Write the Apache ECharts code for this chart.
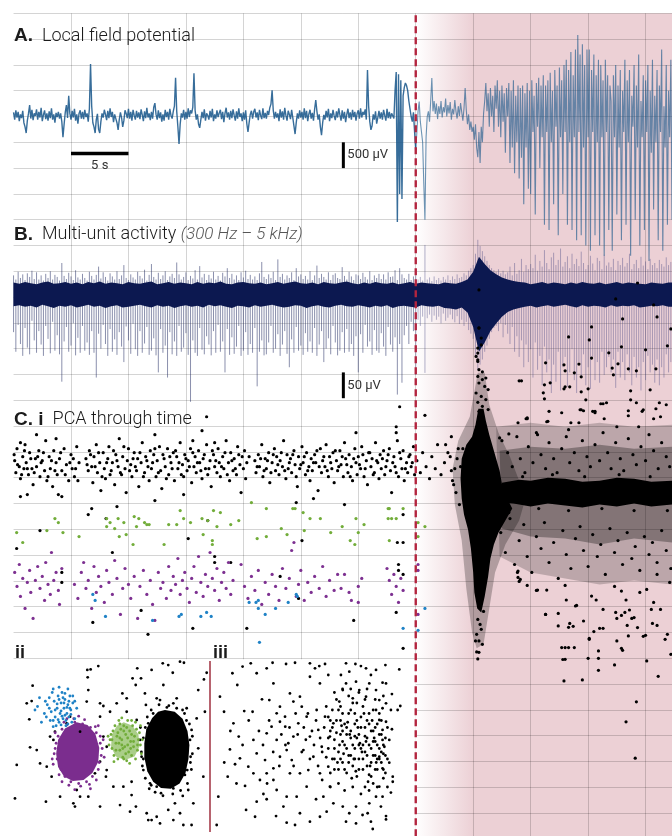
<!DOCTYPE html>
<html><head><meta charset="utf-8">
<script src="https://cdn.jsdelivr.net/npm/echarts@6/dist/echarts.min.js"></script>
<style>html,body{margin:0;padding:0;background:#fff}#chart{width:672px;height:836px}</style>
</head><body><div id="chart"></div>
<script>
// ---- time base (seconds) ----
const T_MAX = 57.3;          // end of recording window
const ONSET = 35;            // seizure onset marker
const SHADE_FULL = 40;       // shading reaches full strength
const LFP_STEP = 0.1, MUA_STEP = 0.2, CORE_STEP = 0.5;

// ---- A. local field potential, µV, one sample per 0.1 s ----
const lfp = [
 80,-60,120,-20,90,-90,40,-30,110,-120,
 -200,-320,-80,60,220,-40,130,-70,60,10,
 140,-60,90,-20,170,-90,30,120,-50,60,
 -80,100,-30,160,-60,40,-120,70,-10,90,
 -40,60,-100,-400,-150,80,220,-30,400,60,
 -60,110,-20,150,-80,40,-140,60,120,-40,
 90,-50,130,-10,60,-100,150,1017,200,-120,
 -200,-320,-60,50,-250,-320,-100,60,-20,130,
 40,-70,110,-30,160,-10,90,-110,40,-40,
 -120,-260,-60,80,-20,-200,-80,120,60,-30,
 150,-40,90,-80,130,20,-60,110,-20,80,
 -50,140,30,-90,100,-30,170,-20,60,-70,
 90,-40,180,260,40,-60,120,-30,80,-100,
 40,-80,130,-10,90,-60,150,20,-40,100,
 200,750,100,-200,-530,-150,60,-20,130,-60,
 90,-40,160,-10,120,60,180,840,120,-60,
 40,-150,-220,-60,90,-30,140,-80,60,20,
 -60,110,-20,150,-90,40,-40,120,-10,70,
 130,-50,90,-110,60,170,-20,80,-60,110,
 -30,140,20,-80,100,-40,160,-10,60,-90,
 80,-60,120,-140,-300,-120,40,110,-40,90,
 150,-20,80,-70,130,20,-50,160,-30,70,
 -40,110,30,170,240,510,120,-40,90,-20,
 60,-90,140,-20,100,-60,170,20,-80,110,
 40,-50,130,-20,-180,-340,-120,60,-40,120,
 -20,90,-60,160,-30,110,-90,50,130,-40,
 70,-80,140,320,100,-60,40,-200,-360,-120,
 30,-60,110,-20,150,-90,60,-30,130,10,
 -70,100,-20,160,30,-80,120,-40,90,-110,
 40,150,-30,80,-60,130,-10,90,-80,60,
 120,-40,160,-20,90,30,140,-60,900,200,
 -100,-260,-180,40,-60,100,-140,-20,110,-40,
 80,-60,130,20,-80,150,-30,90,-40,60,
 60,-40,500,860,-2045,820,-1500,700,-1600,400,
 560,650,600,500,300,150,0,-100,80,-300,
 -650,-300,100,290,-100,-300,-500,-1300,-2000,-400,
 0,100,-100,300,745,100,300,50,250,-50,
 200,50,300,-20,180,80,350,0,220,60,
 280,-60,150,40,320,100,-40,200,10,260,
 90,-80,160,550,120,-150,40,-260,-100,-300,
 -200,-450,-150,-600,-790,-300,-900,-200,-500,50,
 300,650,100,450,-200,550,0,400,-300,600,
 150,700,-200,500,-400,600,-100,450,-700,550,
 0,650,-900,500,-600,700,-1100,400,-500,600,
 -1200,550,-800,600,-1700,450,-600,650,-1400,500,
 -1500,700,-300,400,-1900,650,-200,750,-1000,600,
 -400,800,-2100,600,-300,700,-2200,850,-500,500,
 -1700,900,-200,600,-2300,950,-400,700,-1500,1000,
 -300,1100,-2100,900,-500,1250,-2200,800,-400,1300,
 -2400,1580,-300,1200,-2300,1400,-600,1000,-2500,1300,
 -400,1300,-2600,900,-300,1200,-2300,800,-500,1100,
 -2500,1000,-400,700,-2700,1100,-300,800,-2200,600,
 300,-2600,800,-400,1000,-1900,600,-600,900,-2400,
 500,-300,1100,-2100,700,-500,900,-2700,400,-200,
 1000,-2000,600,-600,1200,-2500,300,-400,800,-2200,
 700,-300,1000,-2800,500,-700,1100,-1800,400,-500,
 900,-2400,600,-300,1300,-2600,200,-600,1000,-2100,
 500,-400,1100,-2000
];

// ---- B. multi-unit activity, µV: per 0.2 s bin maximum and minimum ----
const muaHi = [
 38,30,45,33,40, 29,42,35,47,31, 44,30,38,28,41, 33,46,30,39,35, 28,62,37,31,43,
 36,29,48,34,30, 41,33,28,45,37, 30,39,55,32,44, 35,28,42,36,30, 46,31,38,58,33,
 29,40,34,30,45, 37,32,49,28,39, 60,35,30,43,31, 38,46,29,36,41, 33,63,40,30,35,
 44,29,37,32,48, 30,56,34,41,29, 39,32,45,30,37, 28,43,36,52,33, 41,30,38,29,44,
 34,47,31,39,30, 36,29,42,64,35, 31,40,33,45,29, 69,35,41,30,38, 33,44,29,52,36,
 40,31,37,30,46, 29,38,57,33,41, 35,30,44,29,39, 42,33,31,54,37, 30,45,36,29,40,
 38,31,43,35,30, 46,29,38,33,41, 31,40,30,44,35, 36,48,29,52,40, 33,30,41,29,36,
 38,30,35,28,97, 30,34,27,36,29, 33,28,35,30,38, 29,36,31,40,33, 35,42,38,47,52,
 58,80,107,95,85, 75,66,58,52,48, 45,50,42,47,40, 44,55,38,62,41, 48,70,45,58,50,
 60,52,78,47,66, 55,87,62,50,73, 82,58,68,90,55, 64,75,52,80,60, 70,56,84,62,50,
 58,76,61,48,72, 66,50,78,57,63, 54,70,48,66,58, 72,55,62,80,50, 60,68,52,74,57,
 65,50,70,58,62, 52,68,60,55,73, 58,64
];
const muaLo = [
 -72,-110,-58,-95,-118, -64,-102,-115,-50,-88, -112,-70,-96,-118,-60, -85,-113,-52,-108,-78,
 -115,-168,-90,-62,-110, -98,-55,-117,-83,-112, -60,-108,-92,-116,-70, -112,-160,-75,-104,-58,
 -95,-118,-66,-110,-86, -116,-72,-100,-130,-61, -88,-114,-56,-105,-118, -70,-112,-94,-62,-116,
 -108,-84,-117,-150,-66, -112,-98,-160,-72,-115, -90,-118,-60,-110,-102, -74,-116,-207,-88,-112,
 -118,-64,-106,-115,-80, -96,-117,-70,-112,-58, -110,-90,-150,-66,-116, -82,-114,-100,-60,-118,
 -108,-72,-116,-95,-112, -64,-177,-110,-88,-117, -115,-92,-60,-112,-104, -76,-118,-96,-70,-114,
 -140,-86,-112,-62,-108, -98,-116,-74,-110,-90, -112,-64,-118,-96,-70, -130,-104,-84,-115,-60,
 -92,-117,-108,-72,-112, -66,-110,-95,-118,-80, -150,-76,-112,-58,-100, -90,-116,-68,-108,-112,
 -74,-100,-118,-62,-96, -110,-82,-193,-95,-170, -78,-60,-95,-52,-70, -155,-48,-60,-42,-151,
 -45,-38,-52,-40,-48, -42,-55,-36,-50,-44, -38,-47,-53,-41,-56, -48,-60,-52,-68,-75,
 -85,-120,-145,-135,-125, -110,-98,-85,-72,-64, -60,-70,-55,-82,-58, -75,-95,-62,-110,-80,
 -120,-88,-140,-96,-130, -105,-160,-92,-145,-118, -175,-100,-150,-125,-190, -135,-168,-110,-185,-140,
 -120,-178,-150,-105,-165, -190,-130,-160,-115,-175, -140,-182,-120,-165,-130, -170,-110,-155,-140,-120,
 -150,-125,-180,-110,-160, -130,-165,-115,-150,-175, -120,-160,-140,-185,-130, -165,-118,-150,-135,-170,
 -125,-175,-140,-160,-115, -150,-130
];
// dense core of the band, µV, every 0.5 s
const muaCoreHi = [
 24,22,25,23,21,24,26,22,23,25, 22,24,21,25,23,26,22,24,23,21, 25,23,22,24,26,21,23,25,22,24,
 23,21,25,22,24,23,26,22,21,24, 25,23,22,24,21,23,25,22,24,26, 23,22,24,21,25,23,22,24,26,23,
 21,24,22,25,23,22,24,21,23,25, 22,24,23,22,21,24,23,22,25,
 30,45,74,60,48,40,34,30,
 27,25,24,21,23,25,22,24,23,21,24,22,25,23,22,24,21,23,25,22,24,23,22,21,24,23,22,24
];
const muaCoreLo = [
 -22,-20,-23,-21,-24,-19,-22,-25,-21,-23, -20,-24,-22,-19,-23,-21,-25,-22,-20,-24, -23,-21,-19,-22,-24,-20,-23,-21,-25,-22,
 -20,-23,-21,-24,-19,-22,-20,-23,-25,-21, -22,-24,-20,-23,-21,-19,-22,-24,-23,-20, -21,-25,-22,-20,-23,-24,-21,-19,-22,-23,
 -20,-22,-24,-21,-23,-20,-25,-22,-21,-23, -24,-20,-22,-23,-21,-25,-26,-28,-24,
 -34,-62,-110,-92,-70,-55,-42,-33,
 -28,-25,-23,-21,-24,-22,-20,-23,-21,-19,-22,-24,-20,-23,-21,-22,-24,-20,-23,-21,-22,-20,-24,-23,-21,-22,-20,-23
];

// ---- C.i  PC1 score of each detected event through time: (time s, score) pairs ----
const pcaBlackEarly = [
 0.1,34,0.2,28,0.3,40,0.5,31,0.6,25,0.8,36,0.9,30, 1.0,42,1.1,33,1.3,27,1.4,38,1.6,30,1.7,22,1.9,35,
 2.0,31,2.2,39,2.3,26,2.5,34,2.7,29,2.8,44,2.9,24, 3.1,36,3.2,30,3.4,21,3.5,39,3.7,33,3.8,27,3.9,17,
 4.0,35,4.2,29,4.4,40,4.6,32,4.8,24, 5.0,37,5.1,30,5.3,26,5.5,41,5.7,33, 6.3,35,6.5,29,6.6,39,6.8,31,6.9,23,
 7.0,36,7.2,42,7.3,28,7.5,33,7.6,19,7.8,38,7.9,30, 8.0,25,8.2,35,8.3,41,8.5,29,8.6,33,8.8,22,8.9,37,
 9.1,31,9.2,45,9.4,27,9.5,36,9.7,30,9.8,18,9.9,34, 10.0,40,10.2,32,10.3,26,10.5,38,10.7,29,10.8,35,10.9,21,
 11.1,33,11.2,43,11.4,28,11.5,36,11.7,31,11.8,24,11.9,39, 12.0,30,12.2,37,12.4,26,12.5,34,12.7,41,12.8,29,12.9,20,
 13.1,35,13.2,31,13.4,40,13.5,27,13.7,33,13.9,38, 14.0,24,14.2,36,14.3,30,14.5,43,14.7,32,14.8,26,14.9,37,
 15.1,29,15.2,34,15.4,40,15.5,23,15.7,31,15.8,36,15.9,28, 16.1,39,16.2,33,16.4,25,16.5,35,16.7,30,16.8,42,16.9,27,
 17.1,34,17.2,21,17.4,37,17.5,31,17.7,28,17.8,40,17.9,33, 18.0,26,18.2,36,18.3,30,18.5,44,18.7,33,18.8,24,18.9,38,
 19.1,29,19.2,35,19.4,27,19.5,41,19.7,32,19.8,18,19.9,36, 20.0,30,20.1,39,20.2,25,21.0,34,21.1,28,
 21.3,37,21.4,31,21.6,42,21.7,26,21.9,35, 22.0,30,22.2,38,22.3,23,22.5,33,22.7,40,22.8,29,22.9,36,
 23.1,27,23.2,34,23.4,31,23.5,44,23.7,25,23.8,37,23.9,30, 24.1,35,24.2,28,24.4,39,24.5,32,24.7,21,24.8,36,24.9,30,
 25.1,41,25.2,33,25.4,27,25.5,38,25.7,31,25.8,24,25.9,35, 26.0,29,26.2,37,26.3,33,26.5,19,26.7,40,26.8,28,26.9,34,
 27.1,31,27.2,42,27.4,26,27.5,36,27.7,30,27.8,38,27.9,23, 28.1,34,28.2,29,28.4,39,28.5,32,28.7,26,28.8,43,28.9,35,
 29.1,28,29.2,37,29.4,31,29.5,24,29.7,40,29.8,33,29.9,27, 30.0,36,30.2,30,30.3,41,30.5,26,30.7,34,30.8,22,30.9,38,
 31.1,31,31.2,35,31.4,28,31.5,43,31.7,33,31.8,25,31.9,37, 32.0,30,32.2,39,32.3,27,32.5,34,32.7,40,32.8,29,32.9,18,
 33.1,36,33.2,31,33.4,44,33.5,26,33.7,35,33.8,30,33.9,39, 34.0,24,34.2,33,34.3,28,34.5,37,34.6,31,34.8,41,34.9,27,
 35.1,34,35.4,28,35.6,38,35.9,31,36.2,25,36.4,36,36.7,30,36.9,42,37.2,27,37.5,33,37.8,38,38.1,29,38.3,22,
 38.6,35,38.9,31,39.1,40,39.4,26,39.6,34,39.8,37,39.9,30,
 0.05,37,0.35,32,0.7,27,0.95,39,1.2,30,1.5,35,1.8,28,2.1,36,2.4,33,2.6,38,3.0,26,3.3,34,3.6,29,4.1,38,4.5,27,
 4.9,33,5.2,35,5.4,30,5.6,24,6.4,32,6.7,37,7.1,31,7.4,38,7.7,26,8.1,33,8.4,27,8.7,39,9.0,34,9.3,28,9.6,41,
 10.1,29,10.4,35,10.6,31,11.0,38,11.3,26,11.6,34,12.1,33,12.3,40,12.6,28,13.0,37,13.3,25,13.6,36,13.8,30,
 14.1,39,14.4,33,14.6,27,15.0,35,15.3,31,15.6,38,16.0,33,16.3,29,16.6,37,17.0,30,17.3,39,17.6,34,18.1,31,
 18.4,38,18.6,27,19.0,34,19.3,30,19.6,37,20.3,33,20.5,36,21.2,31,21.5,35,21.8,29,22.1,34,22.4,28,22.6,37,
 23.0,32,23.3,38,23.6,29,24.0,33,24.3,37,24.6,26,25.0,32,25.3,36,25.6,29,26.1,33,26.4,39,26.6,31,27.0,36,
 27.3,29,27.6,33,28.0,39,28.3,31,28.6,36,29.0,32,29.3,26,29.6,35,30.1,32,30.4,37,30.6,30,31.0,38,31.3,27,
 31.6,34,32.1,35,32.4,31,32.6,37,33.0,33,33.3,28,33.6,38,34.1,30,34.4,36,34.7,33,
 0.27,-10,2.3,-1,6.5,7,6.8,10,8.05,5,9.0,11,8.6,-12,4.2,-22,4.2,-27,6.9,-47,11.1,-41,11.7,-53,15.2,-5,16.9,4,
 17.5,-17,17.5,-14,18.9,-17,15.6,-50,20.3,-50,23.2,-24,24.8,-35,25.1,-6,24.6,13,33.3,51,33.3,48,33.6,61,29.8,48,
 33.3,-42,29.6,-46,33.5,-21,33.9,-23,33.5,-18,33.4,-7,33.9,-7,28.8,12,33.9,7,2.0,47,12.3,47,16.4,49,15.6,44,
 17.5,43,3.7,45,0.6,43,12.3,14,26.1,15,0.6,16,1.2,17,4.2,16,14.8,17,16.8,56,33.9,-60
];
const pcaBlackLate = [
 40.5,119.5,40.5,100.5,40.7,92,40.4,84.5,40.8,78.5,54.3,123,52.4,115,55.7,112,53.0,105,56.0,106,57.2,100,50.3,101,
 48.3,96,50.1,94.5,52.9,91,55.0,89.5,56.9,91.5,50.3,85.4,51.8,88,46.3,83,47.9,82,49.2,82.4,52.6,82.5,52.1,80.4,
 53.5,80,54.2,79,55.9,80,48.0,79,48.8,78,52.2,77,49.4,76,44.0,74,46.2,72,46.7,73,47.9,70,48.4,71,49.4,68.5,50.0,70,
 53.7,69,55.4,69.5,46.1,68,46.2,65,49.8,64.5,51.1,62.5,51.6,63,56.2,63,56.8,62,46.6,58.7,47.7,58,49.3,59.5,50.6,58.7,
 53.5,59,54.8,59.5,35.8,56.7,44.6,55,44.2,74,48.0,71,53.7,64.5,54.7,58.7,49.6,59,44.7,55,43.9,53,46.4,53.5,
 48.3,49.5,49.2,53,50.6,58,51.4,55,52.5,51,53.5,56.5,54.4,51,55.7,55,56.3,56,42.3,45.4,43.1,47.4,45.5,48,
 44.7,55.5,46.5,53.7,48.5,53,49.4,59.5,50.4,58.7,51.3,62.5,54.2,63,55.9,60,
 40.5,100.4,40.7,95.4,40.4,90.4,40.4,87.9,40.25,86.2,40.4,83.7,40.5,79.6,40.4,76.2,40.5,72.9,40.8,74.6,41.1,75.4,
 41.0,71.2,41.3,69.6,40.25,67.9,40.7,66.2,41.1,64.6,40.4,63.2,40.8,61.2,40.5,58.7,41.3,59.6,
 43.9,-21.3,44.1,-25.5,44.7,-28.5,45.6,-30.8,46.4,-30.8,48.0,-28.5,48.1,-35.8,49.0,-38.5,46.3,-43,47.4,-42.5,
 47.4,-48.8,48.3,-49.5,48.4,-47.5,48.7,-49,49.6,-46.3,50.3,-33.8,50.7,-35.8,51.3,-40.5,52.4,-42,52.5,-45,52.9,-43.5,
 53.3,-35.8,54.5,-32,55.1,-30.5,55.5,-40.5,56.3,-40.5,55.7,-37,56.0,-48.5,53.4,-48.5,53.8,-45,48.0,-59.6,47.7,-59.6,
 50.1,-55.5,50.9,-65,52.9,-60,53.5,-53.8,55.0,-53.5,56.7,-55.5,40.2,-56.3,40.5,-56.3,40.3,-61.8,40.5,-62,40.4,-65.3,
 48.3,-59.6,48.8,-59.6,47.8,-65.6,48.0,-65.5,50.0,-65,50.9,-61.3,50.9,-71,47.9,-76.3,49.5,-75.8,52.3,-68.3,52.5,-56.3,
 53.0,-61,55.1,-66.3,56.1,-74,57.2,-63,54.2,-86.8,53.3,-96.8,54.1,-115,43.85,-22,43.9,-24.5,44.0,-26.5,
 45.5,-31,46.3,-43,48.9,-38.8,50.1,-55,52.3,-29,52.9,-31.3,53.2,-42,53.6,-40.8,54.0,-44.6,54.3,-49.6,54.8,-54,
 55.6,-47.5,56.9,-53,50.5,-51.6,51.0,-50,51.3,-50,56.0,-23,57.1,-27,
 40.4,-45.5,40.7,-50.5,40.3,-53,40.9,-41.5,40.6,-48,40.8,-58,
 42.5,44,43.0,38,43.4,31,43.8,46,44.1,35,44.5,28,44.8,41,45.2,33,45.6,47,45.9,37,46.3,30,46.6,43,47.0,35,47.3,28,
 47.7,40,48.1,46,48.4,33,48.8,38,49.2,29,49.5,44,49.9,36,50.2,31,50.6,42,51.0,34,51.3,48,51.7,38,52.0,30,52.4,43,
 52.8,35,53.1,29,53.5,45,53.9,37,54.2,32,54.6,41,55.0,34,55.3,47,55.7,39,56.1,30,56.4,43,56.8,36,57.1,31,
 42.4,-2,42.8,-12,43.2,5,43.6,-18,44.0,-6,44.4,2,44.7,-14,45.1,-22,45.5,-4,45.9,-10,46.2,3,46.6,-17,47.0,-7,47.4,-25,
 47.8,-1,48.1,-13,48.5,-20,48.9,-5,49.3,1,49.6,-11,50.0,-19,50.4,-3,50.8,-14,51.1,-8,51.5,-23,51.9,0,52.3,-12,52.6,-6,
 53.0,-18,53.4,-2,53.8,-15,54.1,-9,54.5,-21,54.9,-4,55.3,-13,55.6,-7,56.0,-17,56.4,-1,56.8,-11,57.2,-20,
 43.1,8,44.3,26,45.7,10,46.9,27,48.3,9,49.7,26,51.2,10,52.7,27,54.0,9,55.4,26,56.9,9,
 37.6,42,38.0,36,38.2,24,38.4,30,38.5,18,38.7,40,38.8,12,38.1,46
];
const pcaGreen = [
 0.27,-2,0.8,-7,2.9,-1,3.6,5,3.9,3,4.3,-2,5.7,-4,8.1,5,8.1,1,8.4,3,8.8,0,9.1,5,9.2,-4,9.6,3,9.8,-3,10.4,-8,10.5,6,
 10.9,5,10.7,1,11.4,3,11.6,2,11.8,2,13.1,-8,13.5,2,14.2,2,14.5,9,14.8,5,15.4,3,16.4,5,16.5,-3,16.9,4,17.3,-6,17.3,-8,
 17.4,9,17.7,1,18.0,8,18.9,2,19.6,4,20.7,13,21.2,-5,22.0,10,22.0,-4,23.3,0,23.8,-3,24.3,10,24.5,10,25.2,8,25.3,-1,
 25.8,5,26.7,5,27.6,-2,28.6,1,29.3,-6,29.7,-8,29.8,5,30.5,2,30.0,-2,32.6,10,32.7,10,32.6,5,32.9,5,33.3,5,33.9,10,
 32.7,-6,35.2,3,35.8,1,35.2,-4
];
const pcaPurple = [
 0.1,-22,0.3,-29,0.5,-18,0.6,-34,0.8,-25,1.0,-40,1.2,-27,1.4,-21,1.5,-32,1.7,-45,1.9,-26,2.1,-19,2.3,-30,2.5,-24,
 2.7,-36,2.8,-17,3.0,-28,3.2,-33,3.3,-12,3.5,-26,3.7,-22,3.9,-31,4.0,-38,4.2,-20,5.3,-28,5.6,-35,5.9,-22,6.1,-17,
 6.3,-30,6.5,-26,6.8,-40,7.0,-19,7.2,-32,7.4,-24,7.6,-29,7.9,-37,8.1,-21,8.3,-27,8.6,-33,8.8,-16,9.0,-25,9.3,-43,
 9.5,-30,9.7,-20,10.0,-28,10.2,-35,10.5,-24,10.8,-45,11.0,-29,11.3,-21,11.6,-33,11.9,-26,12.1,-38,12.3,-46,12.6,-22,
 12.8,-30,13.0,-27,13.3,-35,13.5,-19,13.7,-31,13.9,-24,14.1,-28,14.3,-15,14.5,-33,14.7,-26,14.9,-22,15.1,-30,15.3,-37,
 15.5,-25,15.7,-19,15.9,-32,16.1,-14,16.3,-27,16.5,-34,16.7,-23,16.9,-29,17.1,-12,17.3,-25,17.5,-31,17.7,-20,17.9,-36,
 18.1,-27,18.3,-22,18.5,-30,18.7,-17,18.9,-33,19.1,-26,19.8,-18,20.1,-29,20.4,-35,20.7,-24,21.0,-31,21.3,-21,21.6,-38,
 21.9,-27,22.2,-33,22.5,-23,22.8,-29,23.1,-36,23.4,-20,23.7,-30,24.0,-25,24.2,-11,24.4,-7,24.6,-34,24.8,-28,25.0,-21,
 25.3,-36,25.6,-27,25.9,-32,26.2,-24,26.6,-30,26.9,-19,27.2,-34,27.5,-26,27.9,-31,28.2,-23,28.5,-30,28.8,-23,29.2,-32,
 29.4,-36,30.0,-29,30.0,-37,30.3,-25,32.5,-20,32.7,-26,32.9,-33,33.1,-23,33.3,-29,33.5,-37,33.7,-25,33.9,-31,
 35.2,-18,35.2,-21,35.2,-43
];
const pcaBlue = [
 6.9,-33,7.1,-36,8.0,-44,12.1,-46,14.4,-44,14.6,-43,16.3,-44,16.8,-42,17.2,-44,20.5,-37,21.1,-37,21.3,-36,21.3,-40,
 21.9,-43,22.8,-40,23.9,-37,24.6,-33,24.7,-34,35.8,-40,33.9,-50,35.2,-51,21.4,-57
];
// dense regions after onset: burst column, steady band, and the cloud around them (outer to inner)
const pcaSpindle = [
 40.45,60,40.2,52,39.9,46,39.4,42,39.0,35,38.9,25,39.0,15,39.2,7,39.55,-0.5,39.8,-10,40.0,-22,40.1,-32,40.35,-40,
 40.7,-42,41.0,-34,41.3,-24,41.5,-15,41.8,-8,42.2,-2,42.8,4,43.4,10,42.6,19,42.3,29,41.8,39,41.4,47,41.1,54,40.9,60
];
const pcaSpindleHalo = [
 40.4,78,39.7,56,38.7,44,38.2,30,38.4,12,39.0,-6,39.4,-30,39.9,-52,40.3,-60,40.9,-58,41.4,-40,41.9,-22,42.8,-8,
 44.0,4,44.5,14,44.0,24,43.2,36,42.2,48,41.4,62,41.0,78
];
const pcaCore = [42.5,23,44,24.5,45,24,46.5,25.5,48,25,49.5,23.5,51,24,52.5,25.5,54,25,55.5,23.5,57.3,24,
 57.3,12,55.5,11,54,12.5,52.5,11,51,12,49.5,10.5,48,11.5,46.5,12.5,45,11,43.5,12.5,42.5,13];
const pcaCloud = [
 [42.0,51,45,53,48,51,51,53,54,51,57.3,52, 57.3,-28,54,-26,51,-28,48,-25,45,-22,42.3,-14],
 [42.3,39,45,41,48,40,51,42,54,40,57.3,41, 57.3,-7,54,-5,51,-8,48,-5,45,-4,42.5,0]
];

// ---- C.ii  clusters in PC space (PC1, PC2) ----
const clBlue = [
 23,85,27.5,84,13,79,18,79,10.7,72,14,65,20,62.5,30,80,32,73,17,75,19,71,20.5,77,21,68,22,73,22.5,80,23,65,23.5,70,
 24,76,24.5,82,25,67,25.5,73,26,78,26.5,63,27,70,27.5,75,28,68,28.5,80,29,72,29.5,65,30,76,15.5,70,16,77,18.5,66,
 19.5,82,21.5,63,22,75.5,24,71.5,25,79,26,69,27,73.5,28,77,26.5,66,24.5,68.5,23,78,21,72,22.5,66.5,25.5,76,27.5,64,
 29,69.5,31,67,12,74,16.5,68,20,84,18,73,26,81.5,24,63.5,31,77,20,66,28.5,73
];
const clPurple = [
 21,50,22,44,22.5,57,24,38,24.5,61,26,34,27,63.5,29,31,31,65,33,30,35,64,37,31,39,62,40,34,42,59,43,38,44,53,44.5,46,
 43.5,42,20.5,47,25.5,65,28,29,34,28.5,38.5,29.5,41.5,62.5,45,50,23,35,21.5,53,30.5,67,36,66.5,42,32,19.5,44,44,57,
 20,41,46,45,45.5,55,33,68.5,27,67,39,27,31,26.5,24.5,31,21,59,43,63
];
const clPurpleCore = [32,65,37.5,63.5,41.5,58.5,43.5,50.5,43,42.5,40,36,35.5,32,30,31.5,25.5,34,22.5,39.5,21.5,47,22.5,55,26,61.5];
const clGreen = [
 49,55,50,50,50.5,60,51,46,51.5,63,52,53,52.5,57,53,44,53.5,66,54,49,54.5,61,55,55,55.5,45,56,63,56.5,51,57,58,57.5,43,
 58,66,58.5,48,59,60,59.5,54,60,46,60.5,63,61,51,61.5,57,62,44,62.5,61,63,49,63.5,55,64,59,64.5,52,65,47,48.5,52,
 49.5,58,51,42.5,55,67.5,59,41.5,62,65,64.5,63,53,59,55,52,57,47,58,56,60,58,54,56,56,60,58,52,52,49,61,54,55.5,50,
 57.5,62,59.5,50,53.5,53,50,55,63,52,56,44,54,64,60,66,48,57,65.5,55
];
const clGreenCore = [56,65,60.5,63,63.5,58,64,51,61.5,45.5,56.5,43.5,52,45.5,49.5,51,50,58,52.5,63];
const clBlackCore = [77,72,82,71,86,67,88.5,60,89.5,52,89,44,87.5,36,84.5,30,80,27,75,27.5,71,31,68,37,66.5,45,66.5,53,67.5,61,70.5,67.5,73.5,71];
const clBlack = [
 43.0,97.1,37.4,94.9,39.1,95.2,37.6,90.7,62.9,95.8,70.2,94.9,78.7,97.7,81.0,93.3,84.7,99.6,86.7,99.0,94.0,83.4,98.3,93.3,
 96.9,89.5,37.9,83.4,9.0,77.1,6.5,75.8,9.5,85.9,7.8,66.7,8.2,50.7,1.4,40.6,0.5,21.5,16.3,19.6,33.7,59.6,37.1,76.8,
 43.9,75.8,43.9,68.2,45.6,74.3,49.0,71.0,52.4,75.8,55.3,81.5,57.5,71.0,57.5,78.7,60.5,90.1,62.1,86.3,64.8,90.1,66.8,81.5,
 67.3,74.9,62.6,66.3,68.5,64.4,72.8,78.7,76.2,86.3,81.3,75.8,88.1,73.0,93.2,67.2,90.6,60.6,94.0,50.1,96.6,33.9,88.9,26.3,
 86.1,22.9,82.1,18.7,78.7,14.9,72.8,11.0,67.7,13.0,62.2,16.8,60.0,23.4,60.0,31.0,55.8,28.2,50.7,28.2,46.9,33.9,47.3,37.7,
 41.3,35.8,32.0,26.3,33.7,22.5,37.9,22.5,30.3,18.7,31.1,16.8,23.5,22.5,19.2,33.9,16.7,39.6,13.3,41.5,11.6,49.1,18.4,56.8,
 20.1,54.9,43.9,16.8,54.1,17.7,59.2,13.9,68.5,9.1,74.5,7.2,81.3,9.1,86.4,6.3,90.6,6.3,97.4,71.0,47.3,51.0,69.4,30.1,
 87.2,34.9,84.7,13.0,20.9,59.6,26.9,64.4,28.6,68.2,43.9,42.5,45.6,56.8,91.5,18.7,75.9,98.7,70.2,9.1,64.3,54.9,65.1,45.3,
 66.0,37.7,89.8,54.9,90.1,45.3,88.4,37.7,72.8,28.2,81.3,27.2,74.5,77.7,83.0,78.7,
 64.5,62,65.5,40,66,56,67,33,68,68,69,27,70,72,72,25,74,75,76,23,79,74.5,81,24,83,73,85,26,87,70,88.5,30,89.5,64,
 90.5,38,91,57,91,47,65,48,66,44,88,66,70,29,86,72,75,24.5,78,73.5,90,42,67,62,71,70
];

// ---- C.iii  all events after onset in the same PC space ----
const iiiDots = [
 3.9,79.6,5.9,71.0,10.0,93.0,12.4,86.3,15.0,96.8,19.0,98.7,21.9,93.0,26.8,95.8,29.7,99.0,30.1,87.2,36.3,98.3,40.7,99.0,
 48.0,98.7,50.5,95.8,52.6,97.1,55.4,98.3,57.0,92.0,52.9,87.2,48.0,91.0,43.1,79.6,38.2,81.5,33.3,73.9,28.1,77.7,24.5,78.1,
 19.9,71.0,15.8,71.4,13.1,56.8,8.8,49.5,11.3,41.0,7.7,33.9,16.2,28.6,16.7,14.9,21.1,11.0,21.9,19.6,25.2,24.0,26.8,21.0,
 31.7,26.3,30.1,38.7,26.0,43.4,21.9,47.2,20.3,54.9,26.8,58.7,31.7,54.9,29.2,62.5,33.3,65.3,35.9,62.5,36.6,49.1,39.9,56.8,
 42.3,64.4,38.2,35.8,41.5,22.5,35.0,16.8,31.4,11.4,36.6,7.6,40.7,6.3,48.0,8.2,52.9,11.0,56.2,13.9,59.5,18.7,51.0,21.0,
 46.4,28.2,43.1,35.8,49.7,45.3,53.8,51.0,57.8,56.8,59.5,64.4,55.4,68.2,51.3,72.0,46.4,68.2,44.0,73.9,39.9,76.8,35.8,68.2,
 31.7,70.1,2.3,6.3,20.3,35.8,23.5,32.0,17.8,39.6,13.7,44.4,10.5,64.4,3.1,22.5,26.8,35.8,30.1,32.0,33.3,45.3,37.4,53.0,
 39.1,43.4,44.8,49.1,48.0,56.8,52.1,60.6,47.2,37.7,52.9,35.8,57.0,39.6,57.8,28.2,54.6,22.5,43.1,13.0,36.6,22.5,
 65.7,98.7,70.3,98.3,73.0,97.1,75.5,95.8,80.4,94.9,85.0,97.7,91.8,95.2,63.2,92.0,67.3,93.9,77.9,92.0,65.7,87.2,70.6,88.2,
 77.1,87.2,83.6,87.6,85.3,87.2,64.1,83.4,72.2,83.4,80.4,83.4,62.4,76.8,69.0,78.7,75.5,79.6,82.0,77.7,85.3,75.8,87.7,72.0,
 91.0,72.0,92.3,74.3,88.2,81.1,83.6,73.0,85.3,65.3,88.2,61.0,83.6,60.6,86.9,54.9,84.5,51.0,86.9,41.9,83.6,38.7,88.6,33.9,
 88.6,31.0,87.7,24.8,83.6,22.5,82.8,16.8,85.3,11.4,85.3,9.5,77.9,8.2,78.8,4.0,70.6,7.2,65.7,8.2,73.8,12.0,76.3,13.0,
 67.3,13.0,64.1,16.8,70.6,16.8,77.1,18.7,80.4,22.5,82.0,28.2,82.0,45.3,83.6,54.9,82.0,66.3,80.4,72.0,
 58,60,60,55,61,66,62,48,63,58,64,42,64,70,65,52,66,62,66,36,67,46,68,56,68,72,69,40,70,64,70,50,71,34,72,58,72,44,
 73,68,74,52,74,38,75,62,75,28,76,46,76,56,77,70,77,35,78,50,78,42,79,60,79,30,80,54,80,46,81,64,81,38,82,50,82,58,
 83,42,84,47,57,50,57,68,59,44,59,72,60,38,61,78,62,30,63,74,65,26,67,80,69,28,71,76,73,24,75,78,77,26,79,72,81,28,
 83,66,84,33,85,56,55,62,54,48,53,56,52,40,51,66,50,52,49,60,48,44,47,70,46,55,56,74,54,32,58,28,60,82,64,84,68,84,
 72,82,76,84,80,78,84,80,86,62,86,44,85,36,86,28,45,62,44,48,42,58,41,70,40,40,38,62,36,52,34,58,33,40,30,48,28,66,
 27,30,25,52,23,60,18,66,15,52,12,30,9,60,6,42,
 62.5,52,64.5,47,67.5,58,69.5,44,71.5,62,73.5,48,75.5,54,77.5,40,79.5,56,70.5,37,66.5,65,74.5,70,78.5,66,61.5,42,
 68.5,33,76.5,31,80.5,42,63.5,63,72.5,53,70,57,
 56,45,58,36,58,66,60,50,61,59,62,72,63,44,64,54,65,64,65,38,66,50,67,70,67,42,68,60,69,52,69,76,70,44,71,56,71,66,
 72,38,73,50,73,62,74,44,74,74,75,57,76,40,76,66,77,52,78,60,78,34,79,46,80,62,80,38,81,52,82,44,82,70,83,58,84,52,
 84,38,85,46,57,56,59,62,62,38,63,66,66,58,68,46,70,70,72,52,75,48,77,64,79,54,81,44,83,48,60,44,64,60
];

// ---- scale bars ----
const barSeconds = 5, lfpBarMicroV = 500, muaBarMicroV = 50;

// ---- helpers ----
const pairs = flat => { const out = []; for (let i = 0; i < flat.length; i += 2) out.push([flat[i], flat[i + 1]]); return out; };
const SANS = 'Roboto, "Liberation Sans", sans-serif';
const BOLD = '"Liberation Sans", Arial, sans-serif';
const INK = '#1b1b1b';
const PINK = '#ecd0d5';
const GRID_TOP = 13.3, ROW = 25.8, PAGE_H = 836;
const ROWS = (PAGE_H - GRID_TOP) / ROW;

function polygon(axis, outline, fill, z) {
  const pts = pairs(outline);
  return { type: 'custom', xAxisIndex: axis, yAxisIndex: axis, z, silent: true, data: [[pts[0][0], pts[0][1]]],
    renderItem: (p, api) => ({ type: 'polygon', shape: { points: pts.map(q => api.coord(q)) }, style: { fill } }) };
}
function dots(axis, flat, color, size, z) {
  return { type: 'scatter', xAxisIndex: axis, yAxisIndex: axis, z, silent: true, symbol: 'circle', symbolSize: size,
    itemStyle: { color, opacity: 1 }, data: pairs(flat) };
}
function bandOutline(hi, lo, step) {
  const pts = [];
  hi.forEach((v, i) => pts.push([i * step, v]));
  pts.push([T_MAX, hi[hi.length - 1]], [T_MAX, lo[lo.length - 1]]);
  for (let i = lo.length - 1; i >= 0; i--) pts.push([i * step, lo[i]]);
  return pts.flat();
}
const hidden = (gridIndex, min, max) => ({ type: 'value', gridIndex, min, max, show: false });
const lfpPoints = lfp.map((v, i) => [+(i * LFP_STEP).toFixed(1), v]);
const onsetIndex = Math.round(ONSET / LFP_STEP);

const chart = echarts.init(document.getElementById('chart'), null, { renderer: 'canvas' });

const titleRich = {
  b: { fontFamily: BOLD, fontWeight: 'bold', fontSize: 19, color: INK, lineHeight: 22, padding: [0, 9, 0, 0] },
  n: { fontFamily: SANS, fontWeight: 300, fontSize: 18, color: INK, lineHeight: 22 },
  i: { fontFamily: SANS, fontWeight: 300, fontStyle: 'italic', fontSize: 17, color: '#555', lineHeight: 22 },
  r: { fontFamily: BOLD, fontWeight: 'bold', fontSize: 18, color: INK, lineHeight: 22 }
};
const title = (text, left, top) => ({ text, left, top, padding: 0, textStyle: { rich: titleRich } });

chart.setOption({
  animation: false,
  backgroundColor: '#fff',
  title: [
    title('{b|A.}{n|Local field potential}', 14, 25),
    title('{b|B.}{n|Multi-unit activity }{i|(300 Hz – 5 kHz)}', 14, 223.5),
    title('{b|C. i}{n|PCA through time}', 14, 408.5),
    title('{r|ii}', 15, 642),
    title('{r|iii}', 213, 642)
  ],
  grid: [
    { left: 13.55, right: 0, top: GRID_TOP, bottom: 0 },          // 0 paper grid
    { left: 13.55, right: 0, top: GRID_TOP, height: 258 },         // 1 LFP
    { left: 13.55, right: 0, top: 217.6, height: 206.4 },          // 2 MUA
    { left: 13.55, right: 0, top: 219.1, height: 618 },            // 3 PCA through time
    { left: 14, top: 661, width: 196, height: 175 },               // 4 ii
    { left: 212, top: 661, width: 204, height: 175 }               // 5 iii
  ],
  xAxis: [
    { type: 'value', gridIndex: 0, min: 0, max: T_MAX, interval: 5, z: 1,
      axisLine: { show: false }, axisTick: { show: false }, axisLabel: { show: false },
      splitLine: { show: true, showMinLine: false, showMaxLine: false, lineStyle: { color: 'rgba(0,0,0,0.17)', width: 1 } } },
    hidden(1, 0, T_MAX), hidden(2, 0, T_MAX), hidden(3, 0, T_MAX), hidden(4, 0, 100), hidden(5, 0, 100)
  ],
  yAxis: [
    { type: 'value', gridIndex: 0, inverse: true, min: 0, max: ROWS, interval: 1, z: 1,
      axisLine: { show: false }, axisTick: { show: false }, axisLabel: { show: false },
      splitLine: { show: true, showMaxLine: false, lineStyle: { color: 'rgba(0,0,0,0.17)', width: 1 } } },
    hidden(1, -3000, 2000), hidden(2, -250, 150), hidden(3, -154, 155), hidden(4, 0, 100), hidden(5, 0, 100)
  ],
  series: [
    // seizure shading
    { type: 'custom', xAxisIndex: 0, yAxisIndex: 0, z: 0, silent: true, data: [[ONSET, 0]],
      renderItem: (p, api) => {
        const a = api.coord([ONSET, 0]), b = api.coord([SHADE_FULL, 0]), c = api.coord([T_MAX, ROWS]);
        return { type: 'group', children: [
          { type: 'rect', shape: { x: a[0], y: a[1], width: b[0] - a[0], height: c[1] - a[1] },
            style: { fill: new echarts.graphic.LinearGradient(0, 0, 1, 0, [{ offset: 0, color: 'rgba(236,208,213,0)' }, { offset: 1, color: PINK }]) } },
          { type: 'rect', shape: { x: b[0] - 0.5, y: a[1], width: c[0] - b[0] + 1, height: c[1] - a[1] }, style: { fill: PINK } }
        ] };
      } },
    // plain background behind the cluster panels
    { type: 'custom', xAxisIndex: 0, yAxisIndex: 0, z: 2, silent: true, data: [[0, 25]],
      renderItem: (p, api) => {
        const a = api.coord([0, 25.04]), c = api.coord([ONSET, ROWS]);
        return { type: 'rect', shape: { x: 0, y: a[1], width: c[0], height: c[1] - a[1] + 2 }, style: { fill: '#fff' } };
      } },
    // MUA: per-bin extremes
    { type: 'custom', xAxisIndex: 2, yAxisIndex: 2, z: 3, silent: true, clip: true,
      data: muaHi.map((h, i) => [+(i * MUA_STEP).toFixed(1), muaLo[i], h]),
      encode: { x: 0, y: [1, 2] },
      renderItem: (p, api) => {
        const t = api.value(0), a = api.coord([t, api.value(1)]), b = api.coord([t, api.value(2)]);
        return { type: 'line', shape: { x1: a[0], y1: a[1], x2: b[0], y2: b[1] },
          style: { stroke: t < ONSET ? 'rgba(24,34,92,0.5)' : 'rgba(66,66,128,0.4)', lineWidth: 1 } };
      } },
    // MUA: dense core
    Object.assign(polygon(2, bandOutline(muaCoreHi, muaCoreLo, CORE_STEP), '#0c1850', 4), { clip: true }),
    // LFP trace: baseline section, then the seizure section
    { type: 'line', xAxisIndex: 1, yAxisIndex: 1, z: 5, silent: true, showSymbol: false, symbol: 'none',
      lineStyle: { color: 'rgba(20,84,136,0.85)', width: 1.4 },
      data: lfpPoints.slice(0, onsetIndex + 1) },
    { type: 'line', xAxisIndex: 1, yAxisIndex: 1, z: 5, silent: true, showSymbol: false, symbol: 'none',
      lineStyle: { color: 'rgba(20,84,136,0.62)', width: 1.1 },
      data: lfpPoints.slice(onsetIndex) },
    // PCA through time
    ...pcaCloud.map((c, i) => polygon(3, c, 'rgba(0,0,0,' + [0.2, 0.3][i] + ')', 6)),
    polygon(3, pcaSpindleHalo, 'rgba(0,0,0,0.25)', 6),
    polygon(3, pcaCore, '#000', 6),
    polygon(3, pcaSpindle, '#000', 6),
    dots(3, pcaBlackEarly, '#000', 3.2, 7),
    dots(3, pcaBlackLate, '#000', 3.2, 7),
    dots(3, pcaGreen, '#72ad3a', 3.2, 7),
    dots(3, pcaPurple, '#7d3091', 3.2, 7),
    dots(3, pcaBlue, '#1f82c6', 3.2, 7),
    // ii clusters
    polygon(4, clBlackCore, '#000', 6),
    polygon(4, clPurpleCore, '#7b2d8e', 6),
    polygon(4, clGreenCore, 'rgba(114,173,58,0.6)', 6),
    dots(4, clBlack, '#000', 2.8, 7),
    dots(4, clPurple, '#7b2d8e', 2.8, 7),
    dots(4, clGreen, '#72ad3a', 2.8, 7),
    dots(4, clBlue, '#1f82c6', 2.8, 7),
    // iii all events
    dots(5, iiiDots, '#000', 2.8, 7),
    // divider between ii and iii
    { type: 'custom', xAxisIndex: 4, yAxisIndex: 4, z: 8, silent: true, data: [[100, 2.3]],
      renderItem: (p, api) => {
        const a = api.coord([100, 2.3]), b = api.coord([100, 100]);
        return { type: 'line', shape: { x1: a[0], y1: a[1], x2: b[0], y2: b[1] }, style: { stroke: '#b7636f', lineWidth: 2 } };
      } },
    // scale bars (LFP)
    { type: 'custom', xAxisIndex: 1, yAxisIndex: 1, z: 8, silent: true, data: [[5, -717]],
      renderItem: (p, api) => {
        const a = api.coord([5, -717]), b = api.coord([5 + barSeconds, -717]);
        const c = api.coord([28.7, -500]), d = api.coord([28.7, -500 - lfpBarMicroV]);
        const font = '13px ' + SANS;
        return { type: 'group', children: [
          { type: 'line', shape: { x1: a[0], y1: a[1], x2: b[0], y2: b[1] }, style: { stroke: '#000', lineWidth: 3.5 } },
          { type: 'text', x: (a[0] + b[0]) / 2, y: a[1] + 12, style: { text: barSeconds + ' s', fill: '#333', font, align: 'center', verticalAlign: 'middle' } },
          { type: 'line', shape: { x1: c[0], y1: c[1], x2: d[0], y2: d[1] }, style: { stroke: '#000', lineWidth: 3 } },
          { type: 'text', x: c[0] + 4, y: (c[1] + d[1]) / 2, style: { text: lfpBarMicroV + ' µV', fill: '#333', font, align: 'left', verticalAlign: 'middle' } }
        ] };
      } },
    // scale bar (MUA)
    { type: 'custom', xAxisIndex: 2, yAxisIndex: 2, z: 8, silent: true, data: [[28.7, -150]],
      renderItem: (p, api) => {
        const c = api.coord([28.7, -150]), d = api.coord([28.7, -150 - muaBarMicroV]);
        return { type: 'group', children: [
          { type: 'line', shape: { x1: c[0], y1: c[1], x2: d[0], y2: d[1] }, style: { stroke: '#000', lineWidth: 3 } },
          { type: 'text', x: c[0] + 4, y: (c[1] + d[1]) / 2, style: { text: muaBarMicroV + ' µV', fill: '#333', font: '13px ' + SANS, align: 'left', verticalAlign: 'middle' } }
        ] };
      } },
    // onset marker
    { type: 'custom', xAxisIndex: 0, yAxisIndex: 0, z: 10, silent: true, data: [[ONSET, 0]],
      renderItem: (p, api) => {
        const a = api.coord([ONSET, 0]), b = api.coord([ONSET, ROWS]);
        return { type: 'line', shape: { x1: a[0], y1: a[1] + 2, x2: b[0], y2: b[1] }, style: { stroke: '#b3253f', lineWidth: 2.4, lineDash: [7, 4] } };
      } }
  ]
});
</script></body></html>
